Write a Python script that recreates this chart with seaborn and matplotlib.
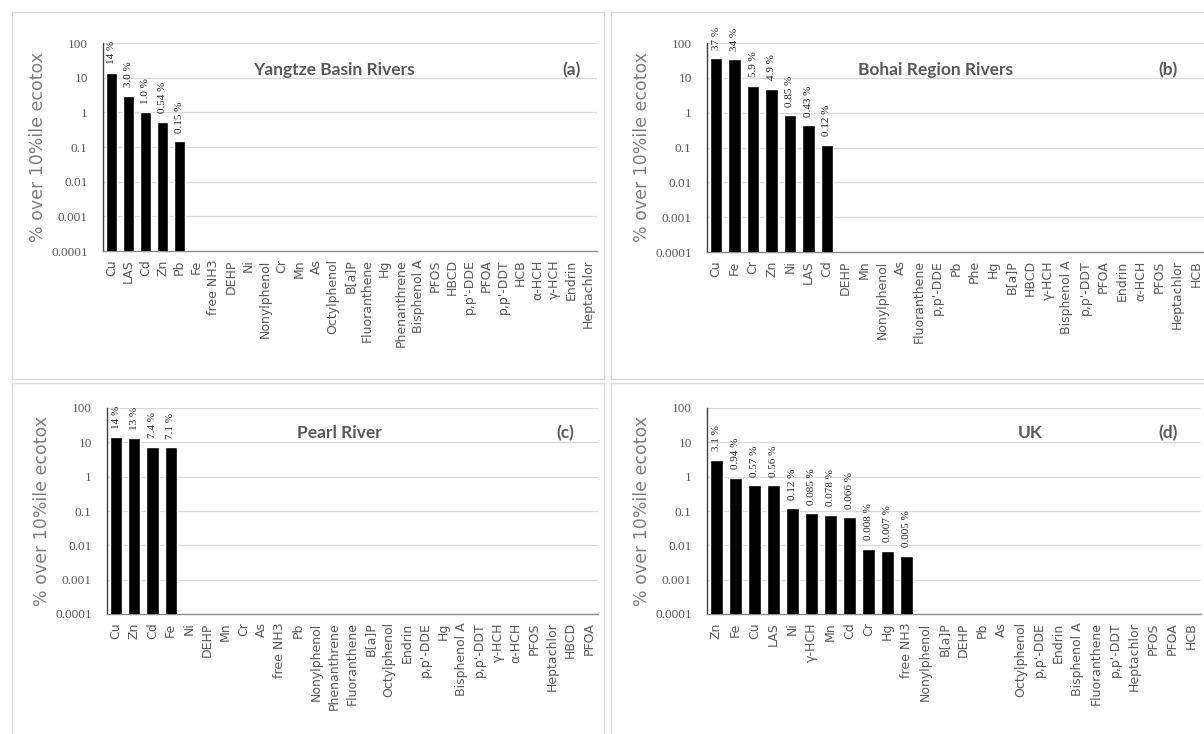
import matplotlib
matplotlib.use("Agg")
import matplotlib.pyplot as plt
from matplotlib.patches import Rectangle
import seaborn as sns
import pandas as pd

sns.set_style("white")
plt.rcParams["font.family"] = ["DejaVu Sans"]

W, H = 1204, 734

# ---- data: % of samples above the 10th-percentile ecotox threshold ----
yangtze_cats = ["Cu", "LAS", "Cd", "Zn", "Pb", "Fe", "free NH3", "DEHP", "Ni",
                "Nonylphenol", "Cr", "Mn", "As", "Octylphenol", "B[a]P",
                "Fluoranthene", "Hg", "Phenanthrene", "Bisphenol A", "PFOS",
                "HBCD", "p,p'-DDE", "PFOA", "p,p'-DDT", "HCB", "α-HCH",
                "γ-HCH", "Endrin", "Heptachlor"]
yangtze_vals = [14, 3.0, 1.0, 0.54, 0.15, 0, 0, 0, 0,
                0, 0, 0, 0, 0, 0,
                0, 0, 0, 0, 0,
                0, 0, 0, 0, 0, 0,
                0, 0, 0]

bohai_cats = ["Cu", "Fe", "Cr", "Zn", "Ni", "LAS", "Cd", "DEHP", "Mn",
              "Nonylphenol", "As", "Fluoranthene", "p,p'-DDE", "Pb", "Phe",
              "Hg", "B[a]P", "HBCD", "γ-HCH", "Bisphenol A", "p,p'-DDT",
              "PFOA", "Endrin", "α-HCH", "PFOS", "Heptachlor", "HCB"]
bohai_vals = [37, 34, 5.9, 4.9, 0.85, 0.43, 0.12, 0, 0,
              0, 0, 0, 0, 0, 0,
              0, 0, 0, 0, 0, 0,
              0, 0, 0, 0, 0, 0]

pearl_cats = ["Cu", "Zn", "Cd", "Fe", "Ni", "DEHP", "Mn", "Cr", "As",
              "free NH3", "Pb", "Nonylphenol", "Phenanthrene", "Fluoranthene",
              "B[a]P", "Octylphenol", "Endrin", "p,p'-DDE", "Hg",
              "Bisphenol A", "p,p'-DDT", "γ-HCH", "α-HCH", "PFOS",
              "Heptachlor", "HBCD", "PFOA"]
pearl_vals = [14, 13, 7.4, 7.1, 0, 0, 0, 0, 0,
              0, 0, 0, 0, 0,
              0, 0, 0, 0, 0,
              0, 0, 0, 0, 0,
              0, 0, 0]

uk_cats = ["Zn", "Fe", "Cu", "LAS", "Ni", "γ-HCH", "Mn", "Cd", "Cr", "Hg",
           "free NH3", "Nonylphenol", "B[a]P", "DEHP", "Pb", "As",
           "Octylphenol", "p,p'-DDE", "Endrin", "Bisphenol A", "Fluoranthene",
           "p,p'-DDT", "Heptachlor", "PFOS", "PFOA", "HCB"]
uk_vals = [3.1, 0.94, 0.57, 0.56, 0.12, 0.085, 0.078, 0.066, 0.008, 0.007,
           0.005, 0, 0, 0, 0, 0,
           0, 0, 0, 0, 0,
           0, 0, 0, 0, 0]

y_ticks = [0.0001, 0.001, 0.01, 0.1, 1, 10, 100]
y_ticklabels = ["0.0001", "0.001", "0.01", "0.1", "1", "10", "100"]

panels = [
    # cats, vals, title, tag, axes box (l, r, top, bottom px), frame (l, r, top, bottom px),
    # title left x, tag left x, title y
    (yangtze_cats, yangtze_vals, "Yangtze Basin Rivers", "(a)",
     (103, 597, 43, 251), (12, 604, 12, 379), 253, 562, 70),
    (bohai_cats, bohai_vals, "Bohai Region Rivers", "(b)",
     (707, 1205, 43, 252), (611, 1210, 12, 379), 858, 1158, 70),
    (pearl_cats, pearl_vals, "Pearl River", "(c)",
     (107, 598, 408, 614), (12, 604, 383, 740), 297, 556, 433),
    (uk_cats, uk_vals, "UK", "(d)",
     (707, 1201, 408, 614), (611, 1210, 383, 740), 1018, 1158, 433),
]

fig = plt.figure(figsize=(W / 100, H / 100), dpi=100)
fig.patch.set_facecolor("white")

grey_txt = "#595959"
grid_col = "#d9d9d9"


def fx(px):
    return px / W


def fy(py):
    return 1 - py / H


def pct_label(v):
    if v >= 10:
        return f"{v:.0f} %"
    if v >= 1:
        return f"{v:.1f} %"
    return f"{v:g} %"


for cats, vals, title, tag, box, frame, tx, tagx, ty in panels:
    # chart-area frame
    fl, fr, ft, fb = frame
    fig.add_artist(Rectangle((fx(fl), fy(fb)), fx(fr) - fx(fl), fy(ft) - fy(fb),
                             transform=fig.transFigure, fill=False,
                             edgecolor=grid_col, linewidth=1.0, zorder=0))

    l, r, t, b = box
    ax = fig.add_axes([fx(l), fy(b), fx(r) - fx(l), fy(t) - fy(b)])
    df = pd.DataFrame({"substance": cats, "pct": vals})
    sns.barplot(data=df, x="substance", y="pct", order=cats, color="black",
                saturation=1, width=0.67, ax=ax, zorder=3)
    ax.set_yscale("log")
    ax.set_ylim(1e-4, 100)
    ax.set_xlim(-0.5, len(cats) - 0.5)

    ax.set_yticks(y_ticks)
    ax.set_yticklabels(y_ticklabels, family="Liberation Serif", fontsize=9.5,
                       color=grey_txt)
    ax.yaxis.set_minor_locator(matplotlib.ticker.NullLocator())
    ax.set_xticks(range(len(cats)))
    ax.set_xticklabels(cats, rotation=90, fontsize=9, color=grey_txt,
                       family=["DejaVu Sans"], va="top")
    ax.tick_params(axis="both", length=0)
    ax.tick_params(axis="x", pad=6)
    ax.tick_params(axis="y", pad=11)

    ax.grid(axis="y", color=grid_col, linewidth=0.9, zorder=0)
    ax.set_axisbelow(True)
    for side in ["top", "right"]:
        ax.spines[side].set_visible(False)
    ax.spines["left"].set_color("#404040")
    ax.spines["left"].set_linewidth(1.0)
    ax.spines["bottom"].set_color("#8c8c8c")
    ax.spines["bottom"].set_linewidth(1.0)

    ax.set_xlabel("")
    ax.set_ylabel("% over 10%ile ecotox", fontsize=12.5, color="#7f7f7f",
                  labelpad=3)

    # value labels above each bar
    for i, v in enumerate(vals):
        if v > 0:
            ax.annotate(pct_label(v), (i, v), xytext=(0, 6),
                        textcoords="offset points", rotation=90,
                        ha="center", va="bottom", fontsize=8,
                        family="Liberation Serif", color="#262626",
                        annotation_clip=False)

    fig.text(fx(tx), fy(ty), title, fontsize=12.5, fontweight="bold",
             color=grey_txt, family="Lato", ha="left", va="center")
    fig.text(fx(tagx), fy(ty), tag, fontsize=12.5, fontweight="bold",
             color=grey_txt, family="Lato", ha="left", va="center")

fig.savefig("out.png", dpi=100, facecolor="white")
